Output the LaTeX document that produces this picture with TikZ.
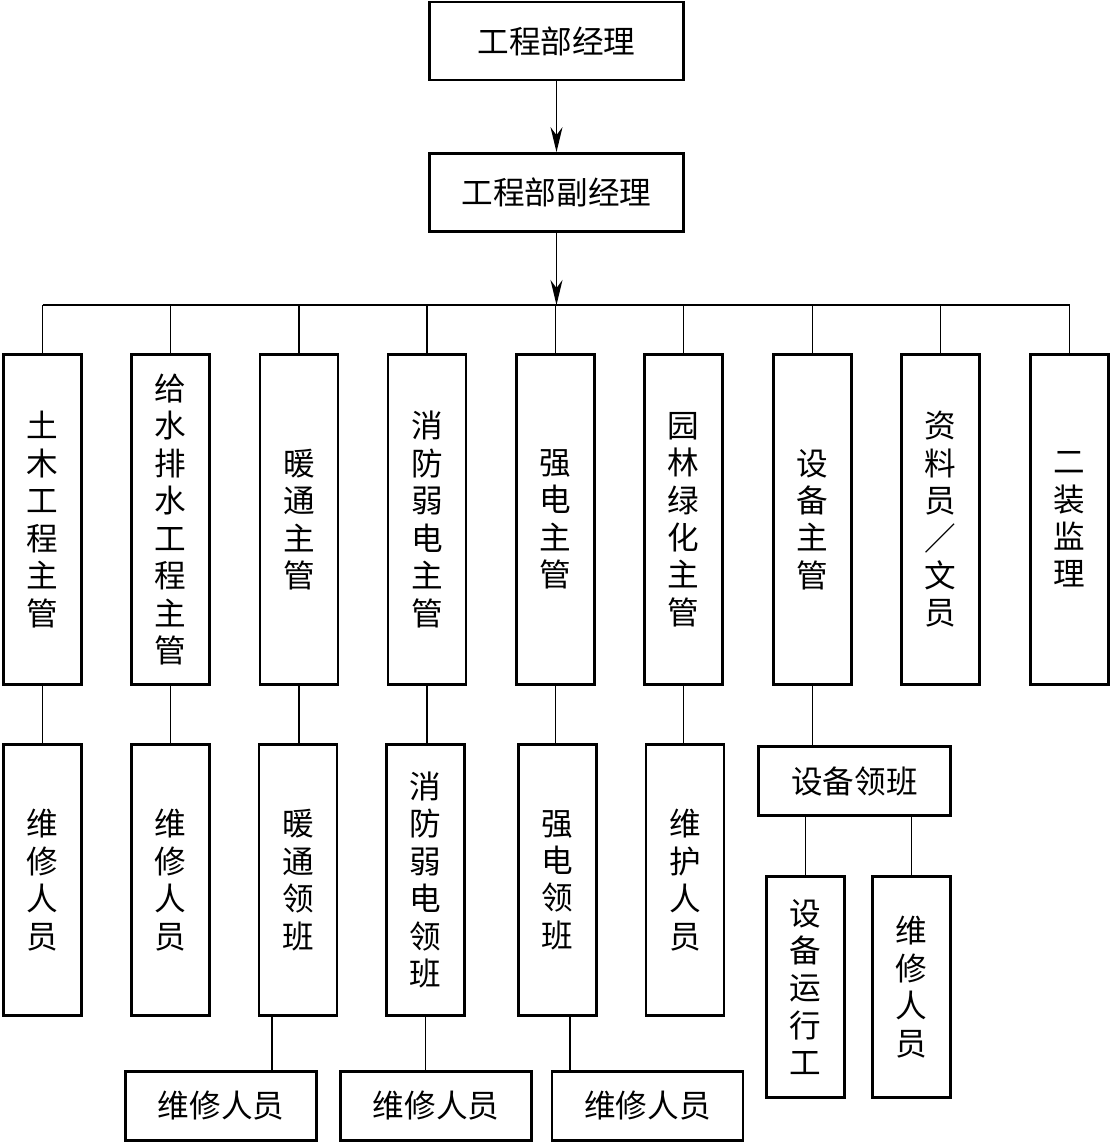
\documentclass[tikz,border=0pt]{standalone}
\usepackage{fontspec}
\setmainfont{Noto Sans CJK SC}
\usetikzlibrary{positioning, calc, arrows.meta}
\tikzset{
  hbox/.style={draw, line width=1.6pt, inner sep=0pt, minimum width=5.08cm, minimum height=1.56cm, font=\fontsize{18}{21.3}\selectfont},
  vbox/.style={draw, line width=1.6pt, inner sep=0pt, minimum width=1.56cm, align=center, font=\fontsize{18}{21.3}\selectfont},
  link/.style={line width=0.8pt},
  tip/.style={-{Stealth[length=5mm, width=2.4mm, inset=1.6mm]}},
}

\begin{document}
\begin{tikzpicture}[x=0.02cm, y=-0.02cm]
    \useasboundingbox (0,0) rectangle (1112,1144);

    % Managers
    \node[hbox] (mgr) at (556.5,41) {工程部经理};
    \node[hbox] (vmgr) at (556.5,192.5) {工程部副经理};
    \coordinate (bus) at (556.5,305);
    \draw[link, tip] (mgr) -- (vmgr);
    \draw[link, tip] (vmgr) -- (bus);

    % Supervisors (first row)
    \foreach \i/\x/\t in {1/42.5/{土\\木\\工\\程\\主\\管}, 2/170.5/{给\\水\\排\\水\\工\\程\\主\\管},
        3/299/{暖\\通\\主\\管}, 4/427/{消\\防\\弱\\电\\主\\管}, 5/555.5/{强\\电\\主\\管},
        6/683.5/{园\\林\\绿\\化\\主\\管}, 7/812.5/{设\\备\\主\\管}, 8/940.5/{资\\料\\员\\／\\文\\员},
        9/1069.5/{二\\装\\监\\理}} {
        \node[vbox, minimum height=6.6cm] (m\i) at (\x,519.5) {\t};
        \draw[link] (m\i.north) -- (m\i.north |- bus);
    }
    \draw[link] (m1.north |- bus) -- (m9.north |- bus);

    % Second row
    \foreach \i/\x/\t in {1/42.5/{维\\修\\人\\员}, 2/170.5/{维\\修\\人\\员}, 3/298/{暖\\通\\领\\班},
        4/425.5/{消\\防\\弱\\电\\领\\班}, 5/557.5/{强\\电\\领\\班}, 6/685/{维\\护\\人\\员}} {
        \node[vbox, minimum height=5.42cm] (l\i) at (\x,880) {\t};
        \draw[link] (m\i.south) -- (m\i.south |- l\i.north);
    }

    % Equipment team
    \node[hbox, minimum width=3.84cm, minimum height=1.38cm] (eqlead) at (854.5,781) {设备领班};
    \draw[link] (m7.south) -- (m7.south |- eqlead.north);
    \node[vbox, minimum height=4.42cm] (eqrun) at (805.5,987) {设\\备\\运\\行\\工};
    \node[vbox, minimum height=4.42cm] (eqrep) at (911.5,987) {维\\修\\人\\员};
    \draw[link] (eqrun.north |- eqlead.south) -- (eqrun.north);
    \draw[link] (eqrep.north |- eqlead.south) -- (eqrep.north);

    % Repair staff (bottom row)
    \foreach \i/\x/\dx in {3/221/-26, 4/436/0, 5/647.5/12.5} {
        \node[hbox, minimum width=3.82cm, minimum height=1.38cm] (w\i) at (\x,1106) {维修人员};
        \path ($(l\i.south)+(\dx,0)$) coordinate (t\i);
        \draw[link] (t\i) -- (t\i |- w\i.north);
    }
\end{tikzpicture}
\end{document}
